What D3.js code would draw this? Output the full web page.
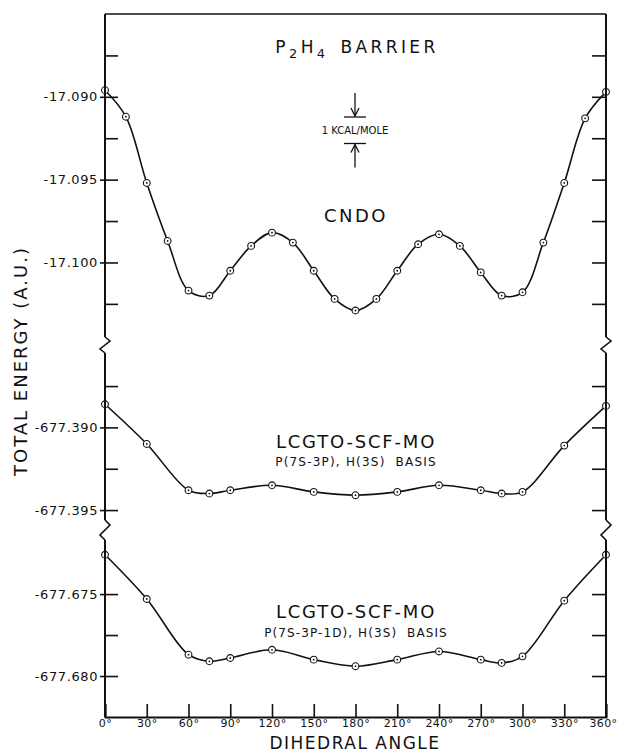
<!DOCTYPE html>
<html>
  <head>
    <meta charset="utf-8" />
    <script src="https://cdn.jsdelivr.net/npm/d3@7"></script>
    <style>
      body { margin: 0; background: #fff; }
      text { font-family: "DejaVu Sans", sans-serif; fill: #111; }
      .tick line { stroke: #111; stroke-width: 1.6; }
    </style>
  </head>
  <body>
    <svg id="chart" width="618" height="753"></svg>
    <script>
      // dihedral angle ticks (deg)
      var angleTicks = [0, 30, 60, 90, 120, 150, 180, 210, 240, 270, 300, 330, 360];

      // CNDO curve
      var cndoAngles = [0, 15, 30, 45, 60, 75, 90, 105, 120, 135, 150, 165, 180,
        195, 210, 225, 240, 255, 270, 285, 300, 315, 330, 345, 360];
      var cndoEnergy = [-17.0896, -17.0912, -17.0952, -17.0987, -17.1017, -17.1020,
        -17.1005, -17.0990, -17.0982, -17.0988, -17.1005, -17.1022, -17.1029,
        -17.1022, -17.1005, -17.0989, -17.0983, -17.0990, -17.1006, -17.1020,
        -17.1018, -17.0988, -17.0952, -17.0913, -17.0897];

      // LCGTO-SCF-MO curves
      var scfAngles = [0, 30, 60, 75, 90, 120, 150, 180, 210, 240, 270, 285, 300, 330, 360];
      var spEnergy = [-677.3886, -677.3910, -677.3938, -677.3940, -677.3938, -677.3935,
        -677.3939, -677.3941, -677.3939, -677.3935, -677.3938, -677.3940, -677.3939,
        -677.3911, -677.3887];
      var spdEnergy = [-677.6726, -677.6753, -677.6787, -677.6791, -677.6789, -677.6784,
        -677.6790, -677.6794, -677.6790, -677.6785, -677.6790, -677.6792, -677.6788,
        -677.6754, -677.6726];

      // energy ticks per panel
      var cndoTicks = [-17.0875, -17.09, -17.0925, -17.095, -17.0975, -17.1, -17.1025];
      var cndoLabels = [-17.09, -17.095, -17.1];
      var spTicks = [-677.3875, -677.39, -677.3925, -677.395];
      var spLabels = [-677.39, -677.395];
      var spdTicks = [-677.675, -677.6775, -677.68];
      var spdLabels = [-677.675, -677.68];

      var svg = d3.select('#chart');
      var left = 105, right = 606, yTop = 14, yBottom = 717;

      var sx = d3.scaleLinear().domain([0, 360]).range([left, right]);

      // three broken panels, same energy/pixel ratio
      var panels = [
        { y: d3.scaleLinear().domain([-17.1045, -17.085]).range([337, yTop]),
          ang: cndoAngles, val: cndoEnergy, ticks: cndoTicks, labels: cndoLabels },
        { y: d3.scaleLinear().domain([-677.3956, -677.3855]).range([520, 353]),
          ang: scfAngles, val: spEnergy, ticks: spTicks, labels: spLabels },
        { y: d3.scaleLinear().domain([-677.6825, -677.6717]).range([yBottom, 540]),
          ang: scfAngles, val: spdEnergy, ticks: spdTicks, labels: spdLabels }
      ];

      var fmt = function(d) { return d.toFixed(3); };

      panels.forEach(function(p) {
        // minor + major ticks pointing inward on both sides
        svg.append('g')
          .attr('transform', 'translate(' + left + ',0)')
          .call(d3.axisRight(p.y).tickValues(p.ticks).tickSize(13).tickFormat(''))
          .select('.domain').remove();
        svg.append('g')
          .attr('transform', 'translate(' + right + ',0)')
          .call(d3.axisLeft(p.y).tickValues(p.ticks).tickSize(14).tickFormat(''))
          .select('.domain').remove();
        // labelled ticks with a small outside stub
        var lab = svg.append('g')
          .attr('transform', 'translate(' + left + ',0)')
          .call(d3.axisLeft(p.y).tickValues(p.labels).tickSize(5).tickPadding(2).tickFormat(fmt));
        lab.select('.domain').remove();
        lab.selectAll('text')
          .style('font-size', '13px')
          .style('letter-spacing', '0.6px')
          .attr('fill', '#111');

        // curve
        var line = d3.line()
          .x(function(d, i) { return sx(p.ang[i]); })
          .y(function(d) { return p.y(d); })
          .curve(d3.curveCatmullRom.alpha(0.5));
        svg.append('path')
          .attr('d', line(p.val))
          .attr('fill', 'none')
          .attr('stroke', '#111')
          .attr('stroke-width', 1.6);

        // circled-dot markers
        var pts = svg.append('g').selectAll('g')
          .data(p.val)
          .enter().append('g')
          .attr('transform', function(d, i) {
            return 'translate(' + sx(p.ang[i]) + ',' + p.y(d) + ')';
          });
        pts.append('circle').attr('r', 3.4)
          .attr('fill', '#fff').attr('stroke', '#111').attr('stroke-width', 1.1);
        pts.append('circle').attr('r', 0.9).attr('fill', '#111');
      });

      // vertical axes with break marks
      var segs = [[yTop, 337], [353, 520], [540, yBottom]];
      [left, right].forEach(function(x) {
        segs.forEach(function(s) {
          svg.append('line')
            .attr('x1', x).attr('x2', x).attr('y1', s[0]).attr('y2', s[1])
            .attr('stroke', '#111').attr('stroke-width', 2);
        });
        [[337, 353], [520, 540]].forEach(function(b) {
          var h = b[1] - b[0];
          svg.append('path')
            .attr('d', 'M' + x + ',' + b[0] + 'L' + (x + 5) + ',' + (b[0] + h * 0.25) +
              'L' + (x - 5) + ',' + (b[0] + h * 0.75) + 'L' + x + ',' + b[1])
            .attr('fill', 'none').attr('stroke', '#111').attr('stroke-width', 1.6);
        });
      });

      // top frame
      svg.append('line')
        .attr('x1', left).attr('x2', right).attr('y1', yTop).attr('y2', yTop)
        .attr('stroke', '#111').attr('stroke-width', 1.6);

      // bottom axis
      var xa = svg.append('g')
        .attr('transform', 'translate(0,' + yBottom + ')')
        .call(d3.axisBottom(sx).tickValues(angleTicks).tickSize(-13).tickPadding(2)
          .tickFormat(function(d) { return d + '\u00b0'; }));
      xa.select('.domain').attr('stroke', '#111').attr('stroke-width', 2);
      xa.selectAll('text')
        .style('font-size', '11px')
        .style('letter-spacing', '0.4px')
        .attr('fill', '#111');
      // keep the last label inside the page
      xa.selectAll('.tick').filter(function(d) { return d === 360; })
        .select('text').attr('text-anchor', 'end').attr('x', 617 - right);

      // axis titles
      svg.append('text')
        .attr('transform', 'translate(27,361) rotate(-90)')
        .attr('text-anchor', 'middle')
        .style('font-size', '18px')
        .style('letter-spacing', '2px')
        .text('TOTAL ENERGY (A.U.)');
      svg.append('text')
        .attr('x', 355).attr('y', 749)
        .attr('text-anchor', 'middle')
        .style('font-size', '17px')
        .style('letter-spacing', '1.5px')
        .text('DIHEDRAL ANGLE');

      // title with subscripts
      var t = svg.append('text')
        .attr('x', 357).attr('y', 53)
        .attr('text-anchor', 'middle')
        .style('font-size', '17px')
        .style('letter-spacing', '3.4px');
      t.append('tspan').text('P');
      t.append('tspan').attr('dy', 5).style('font-size', '13px').text('2');
      t.append('tspan').attr('dy', -5).text('H');
      t.append('tspan').attr('dy', 5).style('font-size', '13px').text('4');
      t.append('tspan').attr('dy', -5).text('\u2002BARRIER');

      // 1 kcal/mole scale marker
      var kx = 355, k1 = 117, k2 = 143.5;
      svg.append('line').attr('x1', kx).attr('x2', kx).attr('y1', k1 - 24).attr('y2', k1 - 1)
        .attr('stroke', '#111').attr('stroke-width', 1.3);
      svg.append('path').attr('d', 'M' + (kx - 4) + ',' + (k1 - 9) + 'L' + kx + ',' + (k1 - 1) + 'L' + (kx + 4) + ',' + (k1 - 9))
        .attr('fill', 'none').attr('stroke', '#111').attr('stroke-width', 1.3);
      svg.append('line').attr('x1', kx).attr('x2', kx).attr('y1', k2 + 1).attr('y2', k2 + 24)
        .attr('stroke', '#111').attr('stroke-width', 1.3);
      svg.append('path').attr('d', 'M' + (kx - 4) + ',' + (k2 + 9) + 'L' + kx + ',' + (k2 + 1) + 'L' + (kx + 4) + ',' + (k2 + 9))
        .attr('fill', 'none').attr('stroke', '#111').attr('stroke-width', 1.3);
      [k1, k2].forEach(function(y) {
        svg.append('line').attr('x1', kx - 11).attr('x2', kx + 11).attr('y1', y).attr('y2', y)
          .attr('stroke', '#111').attr('stroke-width', 1.3);
      });
      svg.append('text')
        .attr('x', kx).attr('y', (k1 + k2) / 2 + 4)
        .attr('text-anchor', 'middle')
        .style('font-size', '10px')
        .text('1 KCAL/MOLE');

      // curve labels
      svg.append('text').attr('x', 356).attr('y', 222).attr('text-anchor', 'middle')
        .style('font-size', '18px').style('letter-spacing', '2.5px').text('CNDO');
      svg.append('text').attr('x', 356).attr('y', 448).attr('text-anchor', 'middle')
        .style('font-size', '18px').style('letter-spacing', '1.8px').text('LCGTO-SCF-MO');
      svg.append('text').attr('x', 356).attr('y', 466).attr('text-anchor', 'middle')
        .style('font-size', '12px').style('letter-spacing', '1.2px').style('white-space', 'pre')
        .text('P(7S-3P), H(3S)  BASIS');
      svg.append('text').attr('x', 356).attr('y', 618).attr('text-anchor', 'middle')
        .style('font-size', '18px').style('letter-spacing', '1.8px').text('LCGTO-SCF-MO');
      svg.append('text').attr('x', 356).attr('y', 637).attr('text-anchor', 'middle')
        .style('font-size', '12px').style('letter-spacing', '1.1px').style('white-space', 'pre')
        .text('P(7S-3P-1D), H(3S)  BASIS');
    </script>
  </body>
</html>
